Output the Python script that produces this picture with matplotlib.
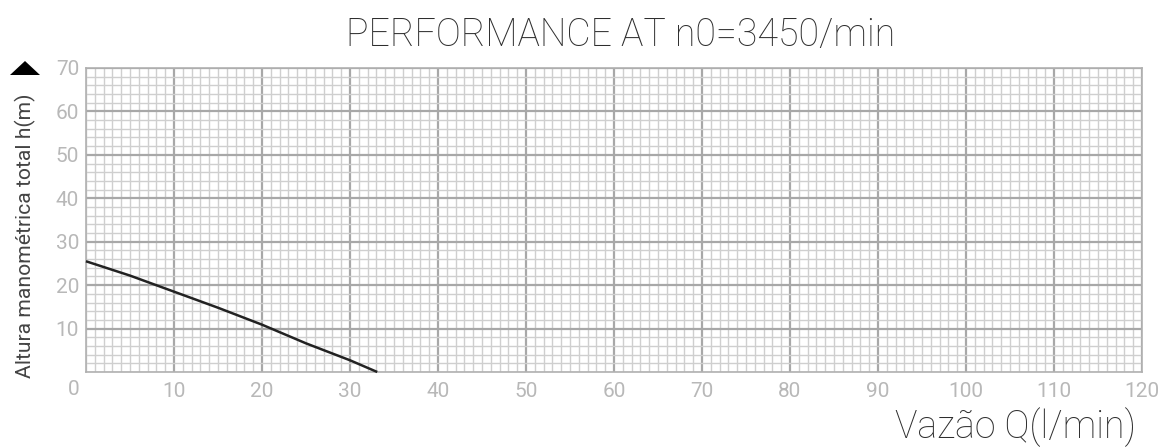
import matplotlib
matplotlib.use("Agg")
import matplotlib.pyplot as plt
from matplotlib.patches import Polygon
from matplotlib.ticker import MultipleLocator

# Data
flow_lpm = [0, 5, 10, 15, 20, 25, 30, 33.1]
head_m = [25.5, 22.2, 18.5, 14.8, 10.9, 6.6, 2.7, 0.0]
x_ticks = [10, 20, 30, 40, 50, 60, 70, 80, 90, 100, 110, 120]
y_ticks = [10, 20, 30, 40, 50, 60, 70]
title = "PERFORMANCE AT n0=3450/min"
xlabel = "Vazão Q(l/min)"
ylabel = "Altura manométrica total h(m)"

fig = plt.figure(figsize=(11.6, 4.47), dpi=100)
ax = fig.add_axes([0.0741, 0.1678, 0.9104, 0.6801])
ax.set_xlim(0, 120)
ax.set_ylim(0, 70)

ax.xaxis.set_major_locator(MultipleLocator(10))
ax.xaxis.set_minor_locator(MultipleLocator(1))
ax.yaxis.set_major_locator(MultipleLocator(10))
ax.yaxis.set_minor_locator(MultipleLocator(2))
ax.grid(which="minor", color="#cfcfcf", lw=1.0)
ax.grid(which="major", color="#a8a8a8", lw=1.6)
ax.set_axisbelow(True)

ax.set_xticks(x_ticks)
ax.set_yticks(y_ticks)
tick_font = dict(family=["Roboto", "DejaVu Sans"], size=15, color="#b8b8b8")
ax.set_xticklabels([str(t) for t in x_ticks], **tick_font)
ax.set_yticklabels([str(t) for t in y_ticks], **tick_font)
ax.tick_params(which="both", length=0)
ax.tick_params(axis="x", pad=7)
ax.tick_params(axis="y", pad=5)
for s in ax.spines.values():
    s.set_color("#b0b0b0")
    s.set_linewidth(1.2)

# corner zero label
ax.text(-0.006, -0.025, "0", transform=ax.transAxes, ha="right", va="top",
        fontdict=tick_font)

ax.plot(flow_lpm, head_m, color="#222222", lw=1.8, solid_capstyle="butt",
        zorder=5, clip_on=False)

fig.text(0.535, 0.922, title, ha="center", va="center",
         family=["Roboto", "DejaVu Sans"], fontweight="light", size=27, color="#2e2e2e")
fig.text(0.979, 0.045, xlabel, ha="right", va="center",
         family=["Roboto", "DejaVu Sans"], fontweight="light", size=27, color="#2e2e2e")
fig.text(0.022, 0.472, ylabel, ha="center", va="center", rotation=90,
         family=["Roboto", "DejaVu Sans"], size=15.2, color="#444444")

# arrowhead marker at the top of the y axis (figure pixel coords)
W, H = 1160, 447
tri = [(10 / W, 1 - 75 / H), (40 / W, 1 - 75 / H), (25 / W, 1 - 61 / H)]
fig.patches.append(Polygon(tri, closed=True, transform=fig.transFigure,
                           facecolor="black", edgecolor="none"))

fig.savefig("out.png", dpi=100)
